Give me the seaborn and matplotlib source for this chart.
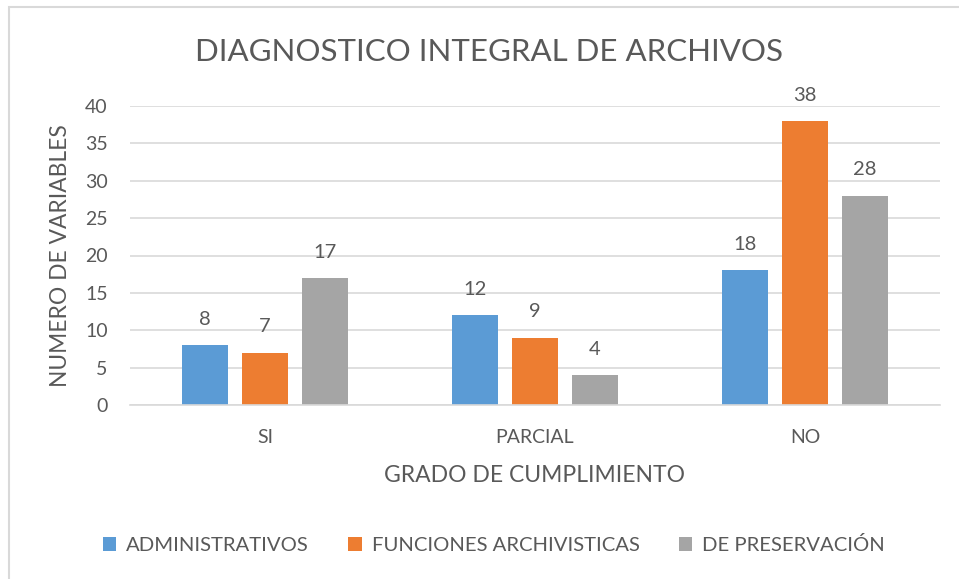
import matplotlib
matplotlib.use("Agg")
import matplotlib.pyplot as plt
import matplotlib.patches as mpatches
import seaborn as sns
import pandas as pd

categories = ["SI", "PARCIAL", "NO"]
series_names = ["ADMINISTRATIVOS", "FUNCIONES ARCHIVISTICAS", "DE PRESERVACIÓN"]
administrativos = [8, 12, 18]
funciones = [7, 9, 38]
preservacion = [17, 4, 28]
y_ticks = [0, 5, 10, 15, 20, 25, 30, 35, 40]

title = "DIAGNOSTICO INTEGRAL DE ARCHIVOS"
x_label = "GRADO DE CUMPLIMIENTO"
y_label = "NUMERO DE VARIABLES"

colors = ["#5B9BD5", "#ED7D31", "#A5A5A5"]
text_color = "#595959"
FONT = "Lato"

df = pd.DataFrame({
    "cat": categories * 3,
    "serie": [series_names[0]] * 3 + [series_names[1]] * 3 + [series_names[2]] * 3,
    "val": administrativos + funciones + preservacion,
})

sns.set_style("white")
plt.rcParams["font.family"] = [FONT, "DejaVu Sans"]

fig = plt.figure(figsize=(9.59, 5.79), dpi=100)
ax = fig.add_axes([130 / 959, 1 - 405 / 579, 810 / 959, 299 / 579])

sns.barplot(data=df, x="cat", y="val", hue="serie", order=categories,
            hue_order=series_names, palette=colors, width=0.667, gap=0.22,
            saturation=1, ax=ax, legend=False, linewidth=0)

for cont in ax.containers:
    ax.bar_label(cont, padding=12.5, fontsize=14.5, color=text_color)

ax.set_xlim(-0.5, 2.5)
ax.set_ylim(0, 40)
ax.set_yticks(y_ticks)
ax.yaxis.grid(True, color="#D9D9D9", linewidth=1.2)
ax.set_axisbelow(True)
for s in ["top", "right", "left"]:
    ax.spines[s].set_visible(False)
ax.spines["bottom"].set_color("#D9D9D9")
ax.spines["bottom"].set_linewidth(1.2)
ax.tick_params(axis="both", length=0, colors=text_color, labelsize=14)
ax.tick_params(axis="y", pad=16)
ax.tick_params(axis="x", pad=17)

ax.set_xlabel(x_label, fontsize=16.5, color=text_color, labelpad=14)
ax.set_ylabel(y_label, fontsize=16.4, color=text_color, labelpad=10)
fig.text(489 / 959, 1 - 52 / 579, title, fontsize=22.5, color=text_color,
         ha="center", va="center")

handles = [mpatches.Patch(facecolor=c, edgecolor="none", label=n)
           for c, n in zip(colors, series_names)]
fig.legend(handles=handles, loc="center", bbox_to_anchor=(494 / 959, 1 - 545 / 579),
           ncol=3, frameon=False, fontsize=14.6, labelcolor=text_color,
           handlelength=0.65, handleheight=0.65, handletextpad=0.5, columnspacing=1.95)

fig.patches.append(mpatches.Rectangle((9 / 959, -0.05), 1.2, 1.05 - 7 / 579,
                                      transform=fig.transFigure, fill=False,
                                      edgecolor="#D9D9D9", linewidth=1.5))

fig.savefig("out.png", dpi=100)
